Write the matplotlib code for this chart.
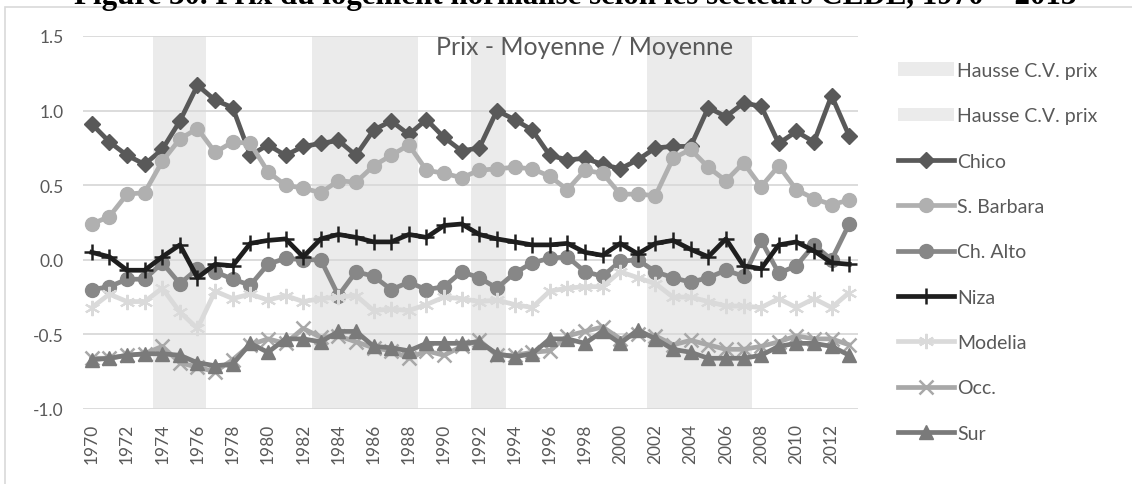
import matplotlib
matplotlib.use("Agg")
import matplotlib.pyplot as plt
from matplotlib.patches import Rectangle
import numpy as np

plt.rcParams['font.family'] = ['Lato', 'DejaVu Sans']

years = list(range(1970, 2014))

# Periods of rising price variation (two shaded series)
hausse_a_years = [1974, 1975, 1976, 1992, 1993]
hausse_b_years = [1983, 1984, 1985, 1986, 1987, 1988, 2002, 2003, 2004, 2005, 2006, 2007]

chico = [0.91, 0.79, 0.70, 0.64, 0.74, 0.93, 1.17, 1.07, 1.02, 0.70, 0.77,
         0.70, 0.76, 0.78, 0.80, 0.70, 0.87, 0.93, 0.84, 0.94, 0.82, 0.73,
         0.75, 1.00, 0.94, 0.87, 0.70, 0.67, 0.68, 0.64, 0.61, 0.67, 0.75,
         0.76, 0.76, 1.02, 0.96, 1.05, 1.03, 0.78, 0.86, 0.79, 1.10, 0.83]
s_barbara = [0.24, 0.29, 0.44, 0.45, 0.66, 0.81, 0.88, 0.72, 0.79, 0.78, 0.59,
             0.50, 0.48, 0.45, 0.53, 0.52, 0.63, 0.70, 0.77, 0.60, 0.58, 0.55,
             0.60, 0.61, 0.62, 0.61, 0.56, 0.47, 0.60, 0.58, 0.44, 0.44, 0.43,
             0.68, 0.74, 0.62, 0.53, 0.65, 0.49, 0.63, 0.47, 0.41, 0.37, 0.40]
ch_alto = [-0.20, -0.18, -0.13, -0.13, -0.02, -0.16, -0.06, -0.08, -0.13, -0.17, -0.03,
           0.01, 0.00, 0.00, -0.24, -0.08, -0.11, -0.20, -0.15, -0.20, -0.18, -0.08,
           -0.12, -0.19, -0.09, -0.02, 0.01, 0.02, -0.08, -0.11, -0.01, 0.00, -0.08,
           -0.12, -0.15, -0.12, -0.07, -0.11, 0.13, -0.09, -0.04, 0.10, 0.00, 0.24]
niza = [0.05, 0.02, -0.07, -0.07, 0.02, 0.10, -0.12, -0.03, -0.04, 0.11, 0.13,
        0.14, 0.02, 0.14, 0.17, 0.15, 0.12, 0.12, 0.17, 0.15, 0.23, 0.24,
        0.17, 0.14, 0.12, 0.10, 0.10, 0.11, 0.05, 0.03, 0.11, 0.04, 0.11,
        0.13, 0.07, 0.02, 0.14, -0.04, -0.06, 0.10, 0.12, 0.06, -0.02, -0.03]
modelia = [-0.32, -0.23, -0.28, -0.28, -0.19, -0.35, -0.46, -0.21, -0.26, -0.23, -0.27,
           -0.24, -0.28, -0.26, -0.25, -0.24, -0.34, -0.33, -0.34, -0.30, -0.25, -0.26,
           -0.28, -0.27, -0.30, -0.32, -0.21, -0.19, -0.18, -0.18, -0.08, -0.12, -0.16,
           -0.25, -0.25, -0.28, -0.31, -0.31, -0.32, -0.26, -0.32, -0.26, -0.32, -0.22]
occ = [-0.66, -0.66, -0.64, -0.63, -0.58, -0.69, -0.72, -0.75, -0.67, -0.57, -0.53,
       -0.56, -0.46, -0.52, -0.51, -0.55, -0.59, -0.61, -0.66, -0.61, -0.64, -0.58,
       -0.54, -0.64, -0.64, -0.62, -0.61, -0.51, -0.48, -0.45, -0.53, -0.50, -0.51,
       -0.57, -0.54, -0.57, -0.60, -0.60, -0.58, -0.55, -0.51, -0.53, -0.53, -0.57]
sur = [-0.67, -0.66, -0.64, -0.63, -0.63, -0.64, -0.69, -0.71, -0.70, -0.56, -0.62,
       -0.53, -0.53, -0.55, -0.48, -0.48, -0.58, -0.59, -0.61, -0.56, -0.56, -0.56,
       -0.55, -0.63, -0.65, -0.63, -0.53, -0.53, -0.56, -0.48, -0.56, -0.47, -0.53,
       -0.60, -0.62, -0.66, -0.66, -0.66, -0.64, -0.58, -0.56, -0.56, -0.58, -0.64]

series = [
    ("Chico", chico, dict(color="#595959", marker="D", markersize=8.5)),
    ("S. Barbara", s_barbara, dict(color="#B0B0B0", marker="o", markersize=10)),
    ("Ch. Alto", ch_alto, dict(color="#878787", marker="o", markersize=10)),
    ("Niza", niza, dict(color="#1E1E1E", marker="+", markersize=11, markeredgewidth=1.8)),
    ("Modelia", modelia, dict(color="#DADADA", marker=(6, 2, 0), markersize=11, markeredgewidth=1.5)),
    ("Occ.", occ, dict(color="#A8A8A8", marker="x", markersize=10, markeredgewidth=1.8)),
    ("Sur", sur, dict(color="#7A7A7A", marker="^", markersize=9.5)),
]

y_min, y_max = -1.0, 1.5
tick_years = years[::2]

fig = plt.figure(figsize=(11.32, 4.85), dpi=100)

# Outer chart frame
fig.patches.append(Rectangle((5 / 1132, -0.2), 1.2, 1.2 - 8 / 485,
                             transform=fig.transFigure, fill=False,
                             edgecolor="#D9D9D9", linewidth=1.2))

fig.text(0.508, 1 - 4 / 485,
         "Figure 30. Prix du logement normalisé selon les secteurs CEDE, 1970 – 2013",
         ha="center", va="baseline", fontsize=22.3, fontweight="bold",
         family=["Liberation Serif"], color="#000000")

ax = fig.add_axes([83 / 1132, 1 - 410 / 485, 775 / 1132, 373 / 485])
ax.set_xlim(1969.5, 2013.5)
ax.set_ylim(y_min, y_max)

bar_a = ax.bar(hausse_a_years, [y_max - y_min] * len(hausse_a_years), width=1.0,
               bottom=y_min, color="#EBEBEB", linewidth=0, zorder=0,
               label="Hausse C.V. prix")
bar_b = ax.bar(hausse_b_years, [y_max - y_min] * len(hausse_b_years), width=1.0,
               bottom=y_min, color="#EBEBEB", linewidth=0, zorder=0,
               label="Hausse C.V. prix")

for yv in np.arange(y_min, y_max + 0.01, 0.5):
    ax.axhline(yv, color="#D9D9D9", linewidth=1.3, zorder=1)

handles = [bar_a, bar_b]
for i, (name, vals, style) in enumerate(series):
    line, = ax.plot(years, vals, linewidth=3.4, label=name, zorder=3 + i,
                    solid_joinstyle="round", **style)
    handles.append(line)

for s in ax.spines.values():
    s.set_visible(False)

ax.set_yticks(np.arange(y_min, y_max + 0.01, 0.5))
ax.set_yticklabels([f"{v:.1f}" for v in np.arange(y_min, y_max + 0.01, 0.5)])
ax.set_xticks(tick_years)
ax.set_xticklabels([str(y) for y in tick_years], rotation=90)
ax.tick_params(axis="both", length=0, labelsize=12.5, labelcolor="#595959")
ax.tick_params(axis="y", pad=14)
ax.tick_params(axis="x", pad=10)

ax.text(1998.0, 1.43, "Prix - Moyenne / Moyenne", ha="center", va="center",
        fontsize=18, color="#595959")

leg = fig.legend(handles=handles, labels=[h.get_label() for h in handles],
                 loc="upper left", bbox_to_anchor=(890 / 1132, 1 - 55 / 485),
                 frameon=False, fontsize=14, handlelength=2.9, handletextpad=0.15,
                 labelspacing=1.46, borderaxespad=0)
for t in leg.get_texts():
    t.set_color("#595959")

fig.savefig("out.png", dpi=100)
